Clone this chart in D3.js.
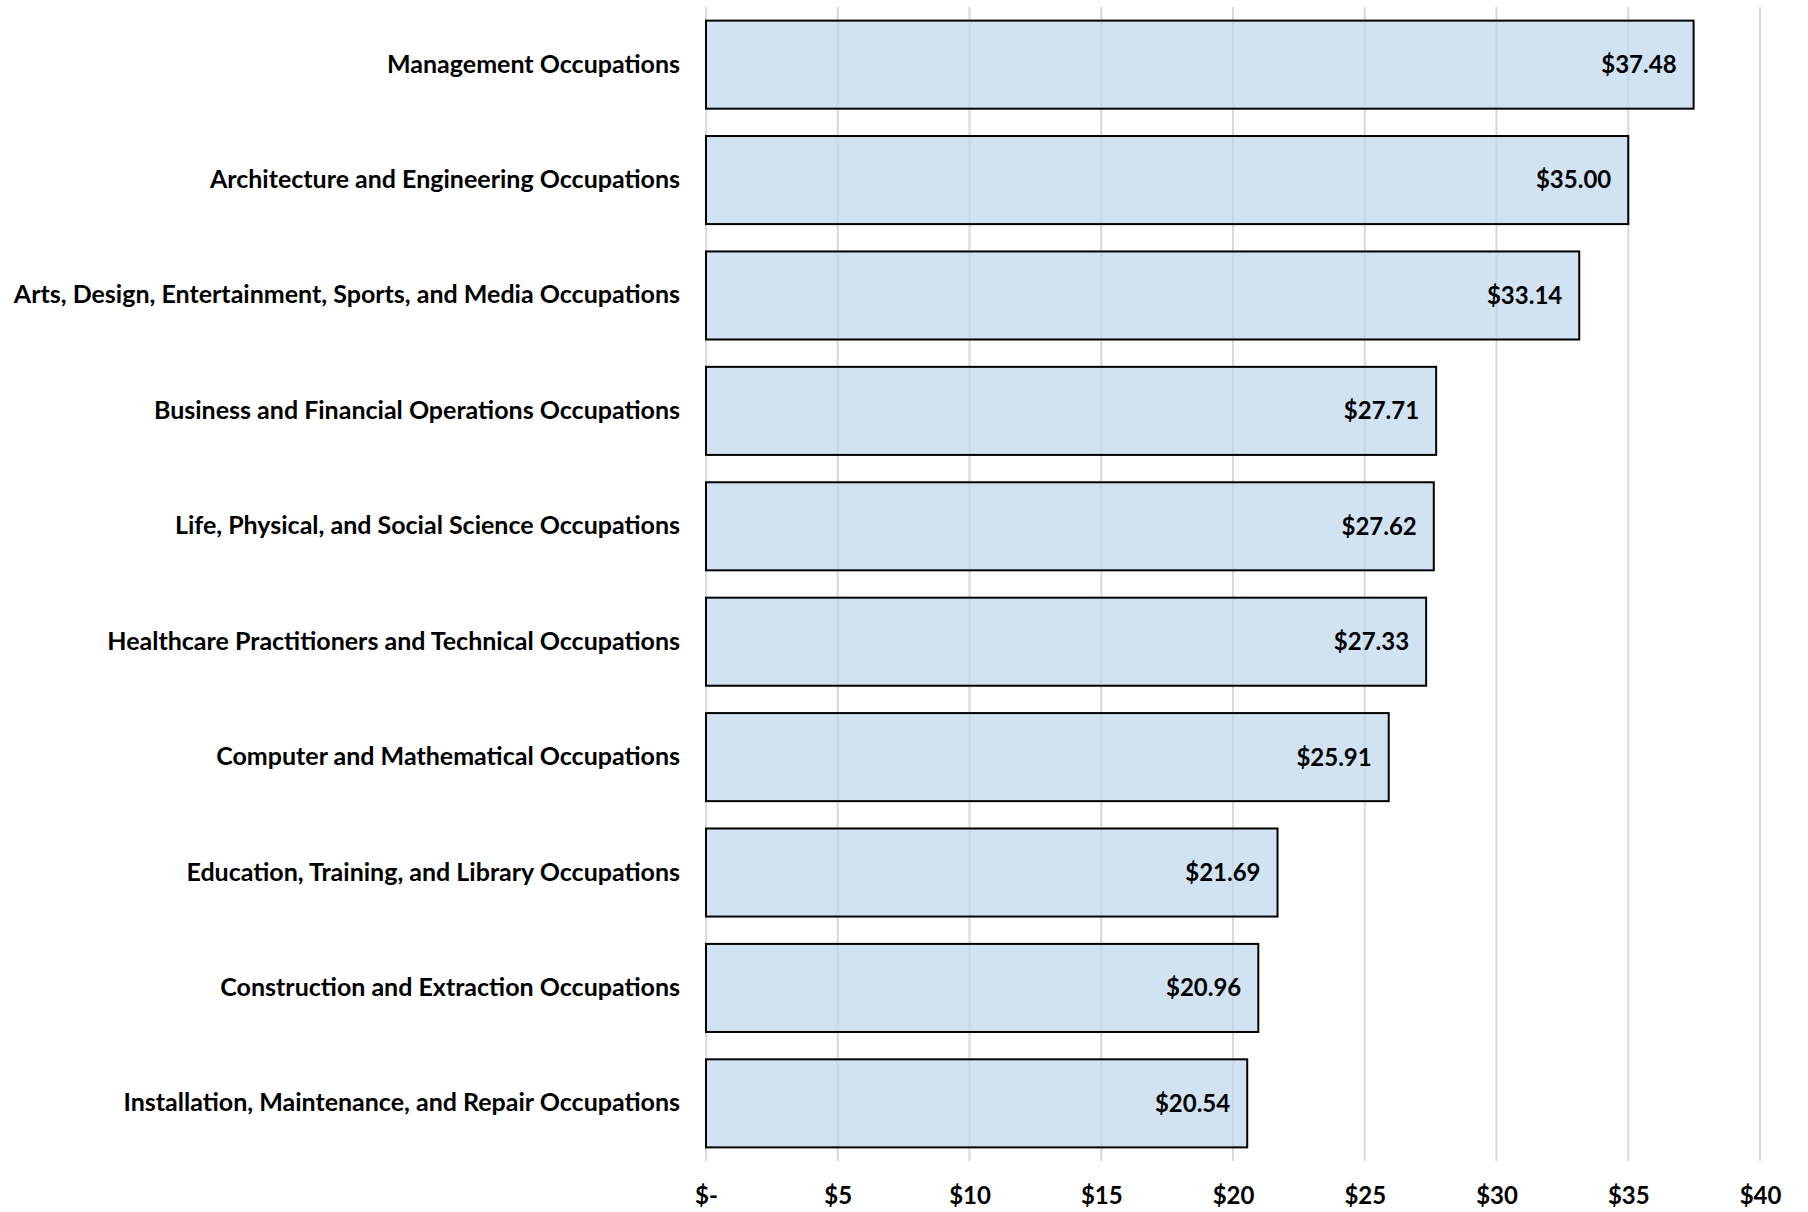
<!DOCTYPE html>
<html>
<head>
<meta charset="utf-8">
<title>Median hourly wage by occupation</title>
<script src="https://cdnjs.cloudflare.com/ajax/libs/d3/7.8.5/d3.min.js"></script>
<style>
    * { margin: 0; padding: 0; }
    body { background: #fff; font-family: Lato, "Open Sans", sans-serif; }
</style>
</head>
<body>
<script>
    // Chart data
    var occupations = [
        "Management Occupations",
        "Architecture and Engineering Occupations",
        "Arts, Design, Entertainment, Sports, and Media Occupations",
        "Business and Financial Operations Occupations",
        "Life, Physical, and Social Science Occupations",
        "Healthcare Practitioners and Technical Occupations",
        "Computer and Mathematical Occupations",
        "Education, Training, and Library Occupations",
        "Construction and Extraction Occupations",
        "Installation, Maintenance, and Repair Occupations"
    ];
    var wages = [37.48, 35.00, 33.14, 27.71, 27.62, 27.33, 25.91, 21.69, 20.96, 20.54];
    var tickValues = [0, 5, 10, 15, 20, 25, 30, 35, 40];
    var tickLabels = ["$-", "$5", "$10", "$15", "$20", "$25", "$30", "$35", "$40"];

    var data = occupations.map(function(d, i) {
        return { name: d, value: wages[i] };
    });

    var width = 1808, height = 1212;
    var margin = { top: 7, right: 48, bottom: 51, left: 706 };

    var svg = d3.select("body").append("svg")
        .attr("width", width)
        .attr("height", height);

    var x = d3.scaleLinear()
        .domain([0, 40])
        .range([margin.left, 1760]);

    var y = d3.scaleBand()
        .domain(occupations)
        .range([margin.top, height - margin.bottom])
        .paddingInner(0.237)
        .paddingOuter(0.118);

    // vertical gridlines
    svg.append("g")
        .selectAll("line")
        .data(tickValues)
        .enter().append("line")
        .attr("x1", function(d) { return x(d); })
        .attr("x2", function(d) { return x(d); })
        .attr("y1", margin.top)
        .attr("y2", height - margin.bottom)
        .attr("stroke", "#d9d9d9")
        .attr("stroke-width", 2);

    // bars
    svg.append("g")
        .selectAll("rect")
        .data(data)
        .enter().append("rect")
        .attr("x", x(0))
        .attr("y", function(d) { return y(d.name); })
        .attr("width", function(d) { return x(d.value) - x(0); })
        .attr("height", y.bandwidth())
        .attr("fill", "rgb(189,215,238)")
        .attr("fill-opacity", 0.7)
        .attr("stroke", "#000")
        .attr("stroke-width", 2);

    // value labels
    svg.append("g")
        .selectAll("text")
        .data(data)
        .enter().append("text")
        .attr("x", function(d) { return x(d.value) - 17; })
        .attr("y", function(d) { return y(d.name) + y.bandwidth() / 2; })
        .attr("dy", "0.35em")
        .attr("text-anchor", "end")
        .style("font-size", "24px")
        .style("font-weight", "bold")
        .style("fill", "#000")
        .text(function(d) { return "$" + d.value.toFixed(2); });

    // category axis
    var yAxis = d3.axisLeft(y).tickSize(0).tickPadding(26);
    svg.append("g")
        .attr("transform", "translate(" + margin.left + ",0)")
        .call(yAxis)
        .call(function(g) { g.select(".domain").remove(); })
        .selectAll("text")
        .style("font-family", "Lato, sans-serif")
        .style("font-size", "25px")
        .style("font-weight", "bold")
        .style("fill", "#000");

    // value axis
    var xAxis = d3.axisBottom(x)
        .tickValues(tickValues)
        .tickSize(0)
        .tickPadding(26)
        .tickFormat(function(d, i) { return tickLabels[i]; });
    svg.append("g")
        .attr("transform", "translate(0," + (height - margin.bottom) + ")")
        .call(xAxis)
        .call(function(g) { g.select(".domain").remove(); })
        .selectAll("text")
        .style("font-family", "Lato, sans-serif")
        .style("font-size", "24px")
        .style("font-weight", "bold")
        .style("fill", "#000");
</script>
</body>
</html>
